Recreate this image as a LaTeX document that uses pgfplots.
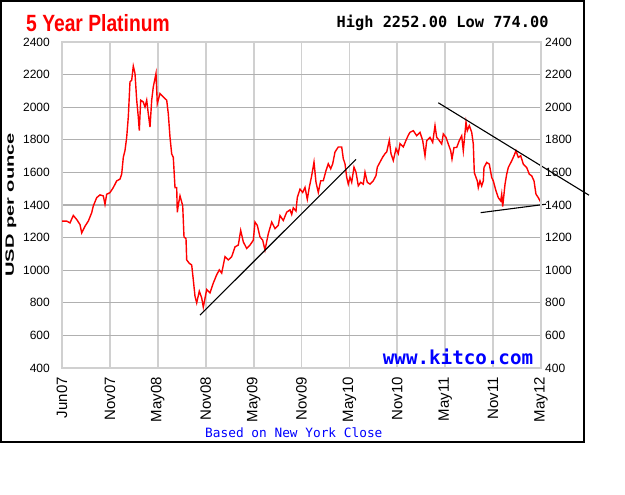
\documentclass[border=0pt]{standalone}
\usepackage{pgfplots}
\pgfplotsset{compat=1.18}
\usepackage{fontspec}
\setmainfont{Liberation Sans}
\newfontfamily\dvm{DejaVu Sans Mono}
\definecolor{hgray}{RGB}{176,176,176}
\definecolor{vgray}{RGB}{208,208,208}
\definecolor{kblue}{RGB}{0,0,255}
\begin{document}
\begin{tikzpicture}[x=1pt,y=1pt]
\path[use as bounding box] (0,0) rectangle (625,495);
\fill[white] (0,0) rectangle (625,495);
\draw[line width=2pt] (1,53) rectangle (584,494);
\begin{axis}[at={(62pt,127pt)}, anchor=south west, scale only axis,
  width=479pt, height=326pt, xmin=0, xmax=479, ymin=400, ymax=2400,
  clip=false,
  xtick={0,47.9,95.8,143.7,191.6,239.5,287.4,335.3,383.2,431.1,479},
  xticklabels={Jun07,Nov07,May08,Nov08,May09,Nov09,May10,Nov10,May11,Nov11,May12},
  ytick={400,600,800,1000,1200,1400,1600,1800,2000,2200,2400},
  /pgf/number format/.cd, 1000 sep={}, assume math mode=true, /pgfplots/.cd,
  major tick length=0pt,
  xmajorgrids, ymajorgrids,
  x grid style={vgray, line width=1.8pt},
  y grid style={hgray, line width=1.3pt},
  axis line style={vgray, line width=1.8pt},
  yticklabel style={font=\fontsize{12}{12}\selectfont, inner sep=0pt},
  yticklabel shift=12pt,
  xticklabel style={rotate=90, anchor=east, inner sep=0pt, font=\fontsize{15}{15}\selectfont},
  xticklabel shift=9pt,
]
\addplot[red, line width=1.4pt] coordinates {
(0,1301) (4.7,1301) (8,1290) (11.3,1336) (14.7,1311) (18,1280) (19.7,1229) (23,1270)
(26.3,1301) (29.7,1353) (31.3,1394) (34.7,1445) (38,1462) (41.3,1456) (43,1404) (44.7,1466)
(48,1476) (51.3,1507) (54.7,1548) (58,1559) (59.7,1590) (61.3,1692) (63,1734) (64.7,1816)
(66.3,1940) (68,2156) (69.7,2166) (71.3,2252) (73,2207) (74.7,2043) (76.3,1940) (77.3,1857)
(78.7,2043) (81.3,2032) (83,2001) (84.7,2043) (86.3,1960) (88,1878) (89.7,2043) (91.3,2125)
(94,2207) (95.3,2022) (98,2084) (101.3,2063) (104.7,2043) (106.3,1960) (108,1816) (109.7,1713)
(111.3,1692) (113,1507) (114.7,1507) (115.3,1355) (116.3,1400) (118,1456) (120.7,1396)
(122,1204) (124,1194) (124.7,1063) (127.3,1042) (129.7,1032) (131.3,941) (133,840) (134.7,800)
(137.3,871) (139.7,830) (141.3,774) (144.7,881) (148,861) (151.3,921) (154.7,972) (157.3,1002)
(159.7,982) (163,1083) (166.3,1063) (169.7,1083) (173,1143) (176.3,1154) (178.7,1244)
(181.3,1174) (184.7,1133) (188,1154) (191.3,1184) (193,1295) (195.3,1275) (198,1204)
(200.7,1184) (203,1123) (206.3,1224) (209.7,1295) (213,1255) (216.3,1275) (218,1335)
(221.3,1305) (224.7,1356) (228,1370) (229.7,1342) (231.3,1383) (234,1363) (235.3,1446)
(238,1497) (240.7,1477) (243,1508) (245.3,1435) (247.3,1508) (249.7,1580) (252,1663)
(254,1539) (256.3,1477) (258.7,1549) (261.3,1549) (264,1611) (266.3,1653) (268.7,1622)
(270.7,1653) (273,1725) (276.3,1756) (279.7,1756) (281.3,1684) (283,1653) (284.7,1570)
(286.3,1528) (288,1570) (289.7,1539) (292,1632) (294,1601) (296.3,1518) (298.7,1539)
(301.3,1528) (303,1601) (305.3,1539) (308,1528) (311.3,1549) (314,1580) (315.3,1632)
(318,1663) (320.7,1694) (323,1715) (324.7,1725) (327.3,1797) (329,1715) (331.3,1673)
(334,1746) (336.3,1715) (338,1777) (341.3,1756) (344,1797) (346.3,1828) (348,1846)
(351.3,1856) (354.7,1825) (358,1846) (360.7,1795) (363,1702) (364.7,1795) (368,1815)
(370.7,1784) (373,1887) (374.7,1815) (377.3,1795) (379.7,1774) (381.3,1836) (384,1815)
(386.3,1774) (388.7,1733) (390,1682) (392,1753) (394.7,1753) (397.3,1795) (399.7,1825)
(401.3,1733) (404,1908) (405.3,1856) (407.3,1887) (409.7,1846) (411.3,1774) (412.3,1599)
(414,1569) (415.3,1548) (416.3,1507) (418,1548) (419.7,1517) (421.3,1548) (422,1630)
(424.7,1661) (427.3,1651) (429.7,1569) (431.3,1548) (434,1486) (436.3,1445) (438.7,1425)
(439.7,1466) (440.7,1390) (443,1527) (444.7,1589) (446.3,1630) (449.7,1671) (452,1702)
(454,1733) (456.3,1692) (458.7,1702) (461.3,1651) (464.7,1630) (467.3,1589) (469.7,1579)
(472,1548) (474,1466) (476.3,1445) (479,1414)
};
\addplot[black, line width=1.1pt] coordinates {(138,724) (294,1680)};
\addplot[black, line width=1.1pt] coordinates {(376.3,2027) (527,1460)};
\addplot[black, line width=1.1pt] coordinates {(418.7,1353) (484,1405)};
\end{axis}
\begin{axis}[at={(62pt,127pt)}, anchor=south west, scale only axis,
  width=479pt, height=326pt, xmin=0, xmax=479, ymin=400, ymax=2400,
  axis x line=none, axis y line*=right,
  ytick={400,600,800,1000,1200,1400,1600,1800,2000,2200,2400},
  /pgf/number format/.cd, 1000 sep={}, assume math mode=true, /pgfplots/.cd,
  major tick length=0pt,
  axis line style={vgray, line width=1.8pt},
  yticklabel style={font=\fontsize{12}{12}\selectfont, inner sep=0pt},
  yticklabel shift=4pt,
]
\addplot[draw=none] coordinates {(0,400)};
\end{axis}
\node[anchor=base west, inner sep=0pt, text=red] at (26,463)
  {\scalebox{0.82}[1]{\fontsize{23.5}{24}\selectfont\bfseries 5 Year Platinum}};
\node[anchor=base west, inner sep=0pt] at (336.5,467.8)
  {\dvm\bfseries\fontsize{15.3}{16}\selectfont High 2252.00 Low 774.00};
\node[anchor=base west, inner sep=0pt, text=kblue] at (382.7,130)
  {\dvm\bfseries\fontsize{19.2}{20}\selectfont www.kitco.com};
\node[anchor=base west, inner sep=0pt, text=kblue] at (205,57.5)
  {\dvm\fontsize{12.8}{13}\selectfont Based on New York Close};
\node[rotate=90, inner sep=0pt] at (11,290)
  {\scalebox{1.67}[1]{\fontsize{12}{12}\selectfont\bfseries USD per ounce}};
\end{tikzpicture}
\end{document}
